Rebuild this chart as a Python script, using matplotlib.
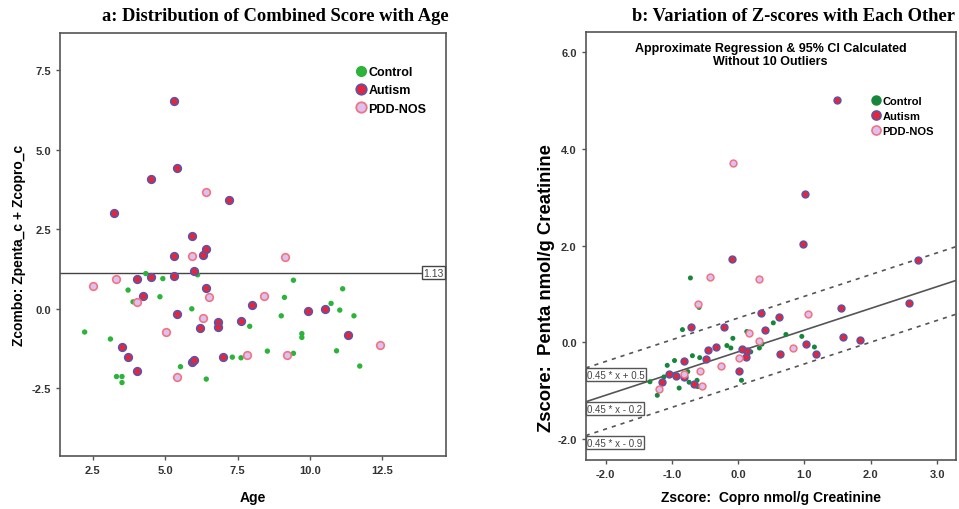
import numpy as np
import matplotlib
matplotlib.use("Agg")
import matplotlib.pyplot as plt
from matplotlib.lines import Line2D

plt.rcParams['font.family'] = ['Liberation Sans', 'DejaVu Sans']

# panel a: age vs combined z-score
age_control = [4.33, 6.12, 4.92, 3.72, 3.89, 4.82, 5.92, 9.43, 9.12, 11.13, 10.73, 11.03, 9.01, 11.52, 7.92,
               9.72, 9.72, 2.22, 3.11, 8.53, 9.43, 10.92, 7.32, 7.62, 5.53, 11.72, 3.32, 3.51, 3.51, 6.42]
z_control = [1.10, 1.06, 0.94, 0.58, 0.21, 0.37, -0.01, 0.89, 0.35, 0.62, 0.16, -0.05, -0.23, -0.23, -0.56,
             -0.79, -0.91, -0.74, -0.96, -1.34, -1.41, -1.33, -1.53, -1.55, -1.83, -1.81, -2.14, -2.14, -2.33, -2.22]
age_autism = [5.32, 5.41, 4.51, 7.22, 3.22, 5.92, 6.42, 5.32, 6.32, 6.01, 5.32, 4.02, 4.51, 4.23, 6.42,
              5.41, 8.01, 6.83, 6.83, 6.22, 7.62, 9.92, 10.52, 11.33, 3.51, 3.72, 4.02, 5.92, 6.01, 7.01]
z_autism = [6.53, 4.42, 4.07, 3.40, 3.02, 2.27, 1.88, 1.66, 1.67, 1.17, 1.01, 0.94, 0.98, 0.39, 0.65,
            -0.18, 0.12, -0.41, -0.57, -0.60, -0.38, -0.07, -0.03, -0.84, -1.20, -1.53, -1.97, -1.68, -1.61, -1.54]
age_pdd = [6.42, 5.92, 9.13, 2.51, 3.32, 4.02, 6.53, 8.43, 6.32, 5.02, 5.41, 7.83, 9.22, 12.42]
z_pdd = [3.65, 1.65, 1.61, 0.70, 0.93, 0.21, 0.35, 0.38, -0.31, -0.74, -2.16, -1.45, -1.45, -1.16]
ref_line = 1.13

# panel b: copro z vs penta z
copro_control = [-0.72, -0.59, 0.53, -0.84, 0.13, 0.72, 0.96, -0.08, 0.36, -0.17, -0.11, 0.19, 0.32, 1.15,
                 -0.58, -0.69, -0.96, -1.07, -0.76, -1.12, -0.74, -0.62, -1.33, 0.05, -0.61, -0.89, -1.22]
penta_control = [1.33, 0.72, 0.40, 0.26, 0.22, 0.16, 0.12, 0.08, -0.04, -0.07, -0.12, -0.20, -0.12, -0.10,
                 -0.32, -0.28, -0.38, -0.48, -0.61, -0.72, -0.83, -0.79, -0.82, -0.79, -0.92, -0.95, -1.10]
copro_autism = [1.49, 1.01, 0.98, -0.09, 2.71, 0.34, 0.62, 1.55, 2.57, -0.71, -0.21, 0.41, 1.58, 1.83, -0.34,
                -0.45, 0.06, 0.13, 1.03, 1.17, 0.63, -0.49, 0.12, -0.82, 0.02, -1.04, -0.93, -0.82, -0.66, -1.15]
penta_autism = [5.01, 3.06, 2.03, 1.72, 1.70, 0.61, 0.53, 0.70, 0.82, 0.31, 0.31, 0.25, 0.10, 0.05, -0.10,
                -0.16, -0.14, -0.18, -0.03, -0.24, -0.25, -0.35, -0.31, -0.40, -0.59, -0.66, -0.70, -0.72, -0.87, -0.82]
copro_pdd = [-0.08, -0.43, 0.31, -0.60, 1.05, 0.17, 0.31, 0.82, 0.01, -0.26, -0.57, -0.81, -0.54, -1.20]
penta_pdd = [3.72, 1.34, 1.30, 0.80, 0.59, 0.20, 0.03, -0.13, -0.32, -0.49, -0.59, -0.66, -0.91, -0.97]
slope = 0.45
intercepts = [0.5, -0.2, -0.9]   # upper CI, fit, lower CI

GREEN_A = '#2bb33a'
GREEN_B = '#16873a'
RED = '#e8243a'
RED_EDGE = '#5b55a8'
PDD_FILL = '#dcc0ef'
PDD_EDGE = '#f07482'
SPINE = '#555555'

fig = plt.figure(figsize=(9.59, 5.10), dpi=100)
ax1 = fig.add_axes([0.0626, 0.1039, 0.4022, 0.829])
ax2 = fig.add_axes([0.6107, 0.0961, 0.3858, 0.8398])

def style_axes(ax):
    for s in ax.spines.values():
        s.set_color(SPINE)
        s.set_linewidth(1.2)
    ax.tick_params(direction='out', length=3, width=1, color=SPINE, labelsize=8, labelcolor='#333333')
    for lab in ax.get_xticklabels() + ax.get_yticklabels():
        lab.set_fontweight('bold')

# ---- panel a
ax1.scatter(age_control, z_control, s=15, color=GREEN_A, edgecolors='none', zorder=3)
ax1.scatter(age_autism, z_autism, s=30, color=RED, edgecolors=RED_EDGE, linewidths=1.2, zorder=4)
ax1.scatter(age_pdd, z_pdd, s=30, color=PDD_FILL, edgecolors=PDD_EDGE, linewidths=1.2, zorder=4)
ax1.axhline(ref_line, color='#444444', lw=1, zorder=2)
ax1.text(0.995, ref_line, '%.2f' % ref_line, transform=ax1.get_yaxis_transform(), ha='right', va='center',
         fontsize=7.5, color='#444444', bbox=dict(boxstyle='square,pad=0.15', fc='white', ec='#444444', lw=1))
ax1.set_xlim(1.37, 14.69)
ax1.set_ylim(-4.64, 8.66)
ax1.set_xticks([2.5, 5.0, 7.5, 10.0, 12.5])
ax1.set_yticks([-2.5, 0.0, 2.5, 5.0, 7.5])
ax1.xaxis.set_major_formatter(matplotlib.ticker.FormatStrFormatter('%.1f'))
ax1.yaxis.set_major_formatter(matplotlib.ticker.FormatStrFormatter('%.1f'))
style_axes(ax1)
ax1.set_xlabel('Age', fontsize=10, fontweight='bold', labelpad=11)
ax1.set_ylabel('Zcombo: Zpenta_c + Zcopro_c', fontsize=10, fontweight='bold', labelpad=4)
fig.text(0.287, 0.967, 'a: Distribution of Combined Score with Age', family='Liberation Serif',
         fontsize=13.3, fontweight='bold', ha='center', va='center')

h1 = [Line2D([], [], ls='', marker='o', ms=7, mfc=GREEN_A, mec=GREEN_A),
      Line2D([], [], ls='', marker='o', ms=7.5, mfc=RED, mec=RED_EDGE, mew=1.3),
      Line2D([], [], ls='', marker='o', ms=7.5, mfc=PDD_FILL, mec=PDD_EDGE, mew=1.3)]
ax1.legend(h1, ['Control', 'Autism', 'PDD-NOS'], loc='upper left', bbox_to_anchor=(0.752, 0.937),
           frameon=False, handlelength=0.7, handletextpad=0.25, labelspacing=0.5, borderpad=0,
           prop={'size': 9, 'weight': 'bold'})

# ---- panel b
ax2.scatter(copro_control, penta_control, s=13, color=GREEN_B, edgecolors='none', zorder=3)
ax2.scatter(copro_autism, penta_autism, s=24, color=RED, edgecolors=RED_EDGE, linewidths=1.1, zorder=4)
ax2.scatter(copro_pdd, penta_pdd, s=24, color=PDD_FILL, edgecolors=PDD_EDGE, linewidths=1.1, zorder=4)
x0, x1 = -2.30, 3.28
xs = np.array([x0, x1])
for i, b in enumerate(intercepts):
    ls = '-' if i == 1 else (0, (2.5, 3))
    ax2.plot(xs, slope * xs + b, color='#555555', lw=1.2, ls=ls, zorder=2)
    sign = '+' if b >= 0 else '-'
    ax2.text(x0 + 0.02, slope * x0 + b - 0.04, '%.2f * x %s %.1f' % (slope, sign, abs(b)), ha='left', va='top',
             fontsize=7, color='#444444', zorder=5,
             bbox=dict(boxstyle='square,pad=0.15', fc='white', ec='#555555', lw=1))
ax2.set_xlim(x0, x1)
ax2.set_ylim(-2.44, 6.43)
ax2.set_xticks([-2.0, -1.0, 0.0, 1.0, 2.0, 3.0])
ax2.set_yticks([-2.0, 0.0, 2.0, 4.0, 6.0])
ax2.xaxis.set_major_formatter(matplotlib.ticker.FormatStrFormatter('%.1f'))
ax2.yaxis.set_major_formatter(matplotlib.ticker.FormatStrFormatter('%.1f'))
style_axes(ax2)
ax2.set_xlabel('Zscore:  Copro nmol/g Creatinine', fontsize=10, fontweight='bold', labelpad=8)
ax2.set_ylabel('Zscore:  Penta nmol/g Creatinine', fontsize=13.3, fontweight='bold')
ax2.yaxis.set_label_coords(-0.083, 0.404)
ax2.text(0.5, 0.975, 'Approximate Regression & 95% CI Calculated\nWithout 10 Outliers', transform=ax2.transAxes,
         ha='center', va='top', fontsize=9, fontweight='bold', linespacing=1.05)
fig.text(0.827, 0.967, 'b: Variation of Z-scores with Each Other', family='Liberation Serif',
         fontsize=13.3, fontweight='bold', ha='center', va='center')

h2 = [Line2D([], [], ls='', marker='o', ms=6.5, mfc=GREEN_B, mec=GREEN_B),
      Line2D([], [], ls='', marker='o', ms=6.5, mfc=RED, mec=RED_EDGE, mew=1.2),
      Line2D([], [], ls='', marker='o', ms=6.5, mfc=PDD_FILL, mec=PDD_EDGE, mew=1.2)]
ax2.legend(h2, ['Control', 'Autism', 'PDD-NOS'], loc='upper left', bbox_to_anchor=(0.76, 0.862),
           frameon=False, handlelength=0.7, handletextpad=0.2, labelspacing=0.45, borderpad=0,
           prop={'size': 8, 'weight': 'bold'})

fig.savefig('out.png', dpi=100)
